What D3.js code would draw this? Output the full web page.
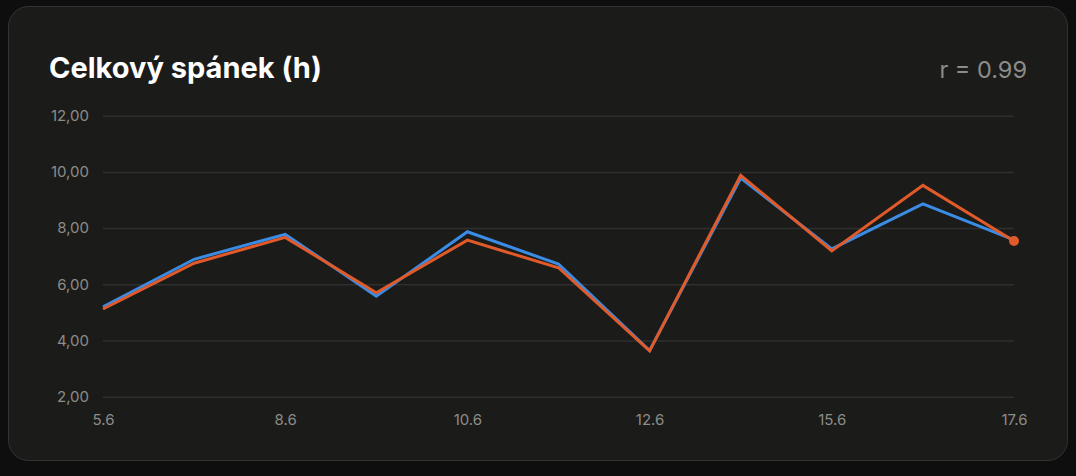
<!DOCTYPE html>
<html>
<head>
<meta charset="utf-8">
<script src="https://cdn.jsdelivr.net/npm/d3@7"></script>
<style>
  html, body { margin: 0; padding: 0; background: #0e0e0e; }
  svg { display: block; font-family: Inter, "Noto Sans", sans-serif; }
</style>
</head>
<body>
<svg id="chart" width="1076" height="476"></svg>
<script>
const dates = ["5.6", "7.6", "8.6", "9.6", "10.6", "11.6", "12.6", "14.6", "15.6", "16.6", "17.6"];
const shownLabels = ["5.6", "8.6", "10.6", "12.6", "15.6", "17.6"];
const seriesBlue = [5.20, 6.89, 7.78, 5.58, 7.87, 6.72, 3.64, 9.78, 7.26, 8.86, 7.58];
const seriesOrange = [5.12, 6.75, 7.67, 5.70, 7.57, 6.59, 3.63, 9.88, 7.19, 9.52, 7.54];
const yTicks = [2, 4, 6, 8, 10, 12];
const title = "Celkový spánek (h)";
const rLabel = "r = 0.99";

const svg = d3.select("#chart");

svg.append("rect")
  .attr("x", 8.5).attr("y", 6.5)
  .attr("width", 1059).attr("height", 454)
  .attr("rx", 20).attr("ry", 20)
  .attr("fill", "#1b1b1a")
  .attr("stroke", "#333332").attr("stroke-width", 1);

svg.append("text")
  .attr("x", 49).attr("y", 78)
  .attr("fill", "#ffffff")
  .attr("font-size", 29).attr("font-weight", 700)
  .text(title);

svg.append("text")
  .attr("x", 1027).attr("y", 78)
  .attr("text-anchor", "end")
  .attr("fill", "#8c8c88")
  .attr("font-size", 23.5)
  .text(rLabel);

const x = d3.scalePoint().domain(dates).range([103, 1014]).padding(0);
const y = d3.scaleLinear().domain([2, 12]).range([396.7, 115.7]);

const fmt = v => d3.format(".2f")(v).replace(".", ",");

// y grid + labels
const yAxis = d3.axisLeft(y).tickValues(yTicks).tickSize(-(1014 - 103)).tickPadding(14).tickFormat(fmt);
const gy = svg.append("g").attr("transform", "translate(103,0)").call(yAxis);
gy.select(".domain").remove();
gy.selectAll(".tick line").attr("stroke", "#2f2f2e").attr("stroke-width", 1.5);
gy.selectAll(".tick text").attr("fill", "#8c8c88").attr("font-size", 15).attr("font-family", "Inter, sans-serif");

// x labels
const xAxis = d3.axisBottom(x).tickValues(shownLabels).tickSize(0).tickPadding(0);
const gx = svg.append("g").attr("transform", "translate(0,414)").call(xAxis);
gx.select(".domain").remove();
gx.selectAll(".tick text").attr("fill", "#8c8c88").attr("font-size", 15).attr("font-family", "Inter, sans-serif").attr("dy", "0.71em");

const line = d3.line().x((d, i) => x(dates[i])).y(d => y(d));

svg.append("path").datum(seriesBlue)
  .attr("d", line).attr("fill", "none")
  .attr("stroke", "#3a8ce4").attr("stroke-width", 3).attr("stroke-linejoin", "miter");

svg.append("path").datum(seriesOrange)
  .attr("d", line).attr("fill", "none")
  .attr("stroke", "#e05a2a").attr("stroke-width", 3).attr("stroke-linejoin", "miter");

const last = seriesOrange.length - 1;
svg.append("circle")
  .attr("cx", x(dates[last])).attr("cy", y(seriesOrange[last]))
  .attr("r", 5).attr("fill", "#e05a2a");
</script>
</body>
</html>
